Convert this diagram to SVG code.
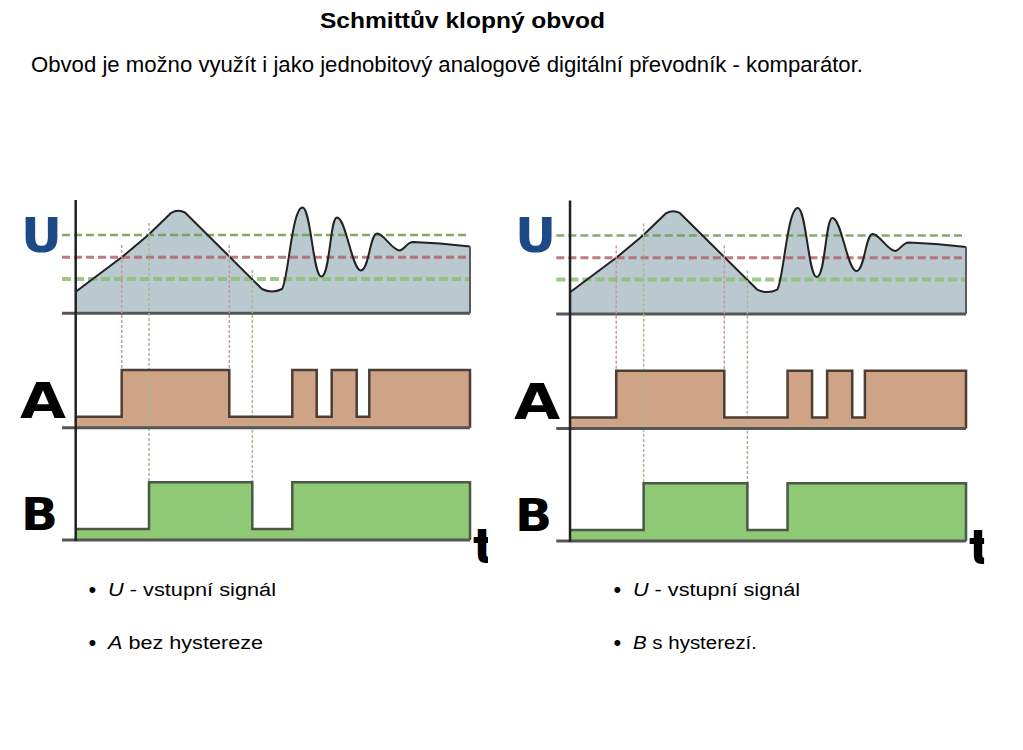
<svg xmlns="http://www.w3.org/2000/svg" width="1023" height="750" viewBox="0 0 1023 750">
<style>
  .txt { font-family: "Liberation Sans", Arial, "DejaVu Sans", sans-serif; fill: #000; }
  .lbl { font-family: "DejaVu Sans", "Liberation Sans", sans-serif; font-weight: bold; fill: #000; }
  .ulbl { fill: #1d4a86; }
  .ufill { fill: #b9c9cf; stroke: none; }
  .curve { fill: none; stroke: #222; stroke-width: 2; stroke-linejoin: round; }
  .edge { stroke: #5a5a5a; stroke-width: 2; }
  .base { stroke: #555; stroke-width: 3; }
  .axis { stroke: #222; stroke-width: 2.5; }
  .hg1 { stroke: #6f9a55; stroke-width: 2.5; stroke-dasharray: 8 4; opacity: 0.85; }
  .hr { stroke: #b5666a; stroke-width: 3; stroke-dasharray: 8 4; opacity: 0.85; }
  .hg2 { stroke: #8fbf76; stroke-width: 4; stroke-dasharray: 9 4; opacity: 0.85; }
  .vr { stroke: #c49a9c; stroke-width: 1.5; stroke-dasharray: 3 2; }
  .vg { stroke: #a3bb98; stroke-width: 1.5; stroke-dasharray: 3 2; }
  .afill { fill: #cfa386; stroke: none; }
  .asig { fill: none; stroke: #4b3e34; stroke-width: 2.5; }
  .bfill { fill: #90c975; stroke: none; }
  .bsig { fill: none; stroke: #4a5846; stroke-width: 2.5; }
</style>
<defs>
  <clipPath id="tclip" clipPathUnits="userSpaceOnUse">
    <rect x="0" y="0" width="488" height="750"/>
  </clipPath>
</defs>

<g id="title">
  <text class="txt" x="320" y="28" font-size="22" font-weight="bold" textLength="285" lengthAdjust="spacingAndGlyphs">Schmittův klopný obvod</text>
</g>
<g id="subtitle">
  <text class="txt" x="31" y="72" font-size="21.5" textLength="832" lengthAdjust="spacingAndGlyphs">Obvod je možno využít i jako jednobitový analogově digitální převodník - komparátor.</text>
</g>

<g id="chart-left">
  <path class="ufill" d="M75.7,291.7 L121.7,257.3 L148.3,235 L171,213 Q178,209 185,212.5 L262,289 Q272,294 282,289 C288,282 292,207 302.5,207.5 C311,208 313,277 321.5,276.5 C330,276 330,217.5 337,217.5 C346,217.5 352,271 361,270.5 C369,270 370,233.5 377,233.5 C384,233.5 392,250.5 400,250.5 C405,249 407,242 413,242 L440,243.5 L470,246.5 L470,313.3 L75.7,313.3 Z"/>
  <line class="hg1" x1="62" y1="235" x2="470" y2="235"/>
  <line class="hr" x1="62" y1="257.3" x2="470" y2="257.3"/>
  <line class="hg2" x1="62" y1="279" x2="470" y2="279"/>
  <path class="curve" d="M75.7,291.7 L121.7,257.3 L148.3,235 L171,213 Q178,209 185,212.5 L262,289 Q272,294 282,289 C288,282 292,207 302.5,207.5 C311,208 313,277 321.5,276.5 C330,276 330,217.5 337,217.5 C346,217.5 352,271 361,270.5 C369,270 370,233.5 377,233.5 C384,233.5 392,250.5 400,250.5 C405,249 407,242 413,242 L440,243.5 L470,246.5"/>
  <line class="edge" x1="470" y1="246.5" x2="470" y2="313.3"/>
  <line class="base" x1="62" y1="313.3" x2="470" y2="313.3"/>
  <path class="afill" d="M75.7,416.7 H121.7 V370 H229.3 V416.7 H292.3 V370 H316.7 V416.7 H331.7 V370 H356.7 V416.7 H369.3 V370 H470 V427.7 H75.7 Z"/>
  <path class="bfill" d="M75.7,529 H149 V482.3 H252.3 V529 H292.3 V482.3 H470 V540 H75.7 Z"/>
  <line class="vr" x1="121.7" y1="245" x2="121.7" y2="370"/>
  <line class="vr" x1="229.3" y1="245" x2="229.3" y2="370"/>
  <line class="vg" x1="149" y1="223" x2="149" y2="482.3"/>
  <line class="vg" x1="252.3" y1="270" x2="252.3" y2="482.3"/>
  <path class="asig" d="M75.7,416.7 H121.7 V370 H229.3 V416.7 H292.3 V370 H316.7 V416.7 H331.7 V370 H356.7 V416.7 H369.3 V370 H470 V427.7"/>
  <line class="base" x1="62" y1="427.7" x2="470" y2="427.7"/>
  <path class="bsig" d="M75.7,529 H149 V482.3 H252.3 V529 H292.3 V482.3 H470 V540"/>
  <line class="base" x1="62" y1="540" x2="470" y2="540"/>
  <line class="axis" x1="75.7" y1="200" x2="75.7" y2="541"/>
  <text class="lbl ulbl" x="21" y="252" font-size="48" textLength="41" lengthAdjust="spacingAndGlyphs">U</text>
  <text class="lbl" x="20" y="418" font-size="49" textLength="46" lengthAdjust="spacingAndGlyphs">A</text>
  <text class="lbl" x="21" y="530" font-size="45" textLength="37" lengthAdjust="spacingAndGlyphs">B</text>
  <text class="lbl" x="473" y="563" font-size="48" clip-path="url(#tclip)">t</text>
</g>

<g id="chart-right" transform="matrix(1.0043 0 0 1.002 494 0)">
  <path class="ufill" d="M75.7,291.7 L121.7,257.3 L148.3,235 L171,213 Q178,209 185,212.5 L262,289 Q272,294 282,289 C288,282 292,207 302.5,207.5 C311,208 313,277 321.5,276.5 C330,276 330,217.5 337,217.5 C346,217.5 352,271 361,270.5 C369,270 370,233.5 377,233.5 C384,233.5 392,250.5 400,250.5 C405,249 407,242 413,242 L440,243.5 L470,246.5 L470,313.3 L75.7,313.3 Z"/>
  <line class="hg1" x1="62" y1="235" x2="470" y2="235"/>
  <line class="hr" x1="62" y1="257.3" x2="470" y2="257.3"/>
  <line class="hg2" x1="62" y1="279" x2="470" y2="279"/>
  <path class="curve" d="M75.7,291.7 L121.7,257.3 L148.3,235 L171,213 Q178,209 185,212.5 L262,289 Q272,294 282,289 C288,282 292,207 302.5,207.5 C311,208 313,277 321.5,276.5 C330,276 330,217.5 337,217.5 C346,217.5 352,271 361,270.5 C369,270 370,233.5 377,233.5 C384,233.5 392,250.5 400,250.5 C405,249 407,242 413,242 L440,243.5 L470,246.5"/>
  <line class="edge" x1="470" y1="246.5" x2="470" y2="313.3"/>
  <line class="base" x1="62" y1="313.3" x2="470" y2="313.3"/>
  <path class="afill" d="M75.7,416.7 H121.7 V370 H229.3 V416.7 H292.3 V370 H316.7 V416.7 H331.7 V370 H356.7 V416.7 H369.3 V370 H470 V427.7 H75.7 Z"/>
  <path class="bfill" d="M75.7,529 H149 V482.3 H252.3 V529 H292.3 V482.3 H470 V540 H75.7 Z"/>
  <line class="vr" x1="121.7" y1="245" x2="121.7" y2="370"/>
  <line class="vr" x1="229.3" y1="245" x2="229.3" y2="370"/>
  <line class="vg" x1="149" y1="223" x2="149" y2="482.3"/>
  <line class="vg" x1="252.3" y1="270" x2="252.3" y2="482.3"/>
  <path class="asig" d="M75.7,416.7 H121.7 V370 H229.3 V416.7 H292.3 V370 H316.7 V416.7 H331.7 V370 H356.7 V416.7 H369.3 V370 H470 V427.7"/>
  <line class="base" x1="62" y1="427.7" x2="470" y2="427.7"/>
  <path class="bsig" d="M75.7,529 H149 V482.3 H252.3 V529 H292.3 V482.3 H470 V540"/>
  <line class="base" x1="62" y1="540" x2="470" y2="540"/>
  <line class="axis" x1="75.7" y1="200" x2="75.7" y2="541"/>
  <text class="lbl ulbl" x="21" y="252" font-size="48" textLength="41" lengthAdjust="spacingAndGlyphs">U</text>
  <text class="lbl" x="20" y="418" font-size="49" textLength="46" lengthAdjust="spacingAndGlyphs">A</text>
  <text class="lbl" x="21" y="530" font-size="45" textLength="37" lengthAdjust="spacingAndGlyphs">B</text>
  <text class="lbl" x="473" y="563" font-size="48" clip-path="url(#tclip)">t</text>
</g>

<g id="legend-left">
  <text class="txt" x="88.5" y="597" font-size="22">•</text>
  <text class="txt" x="108" y="595.7" font-size="18" textLength="168" lengthAdjust="spacingAndGlyphs"><tspan font-style="italic">U</tspan> - vstupní signál</text>
  <text class="txt" x="88.5" y="650.3" font-size="22">•</text>
  <text class="txt" x="108" y="649" font-size="18" textLength="155" lengthAdjust="spacingAndGlyphs"><tspan font-style="italic">A</tspan> bez hystereze</text>
</g>
<g id="legend-right">
  <text class="txt" x="613.5" y="597" font-size="22">•</text>
  <text class="txt" x="633" y="595.7" font-size="18" textLength="167" lengthAdjust="spacingAndGlyphs"><tspan font-style="italic">U</tspan> - vstupní signál</text>
  <text class="txt" x="613.5" y="650.3" font-size="22">•</text>
  <text class="txt" x="633" y="649" font-size="18" textLength="124" lengthAdjust="spacingAndGlyphs"><tspan font-style="italic">B</tspan> s hysterezí.</text>
</g>
</svg>
